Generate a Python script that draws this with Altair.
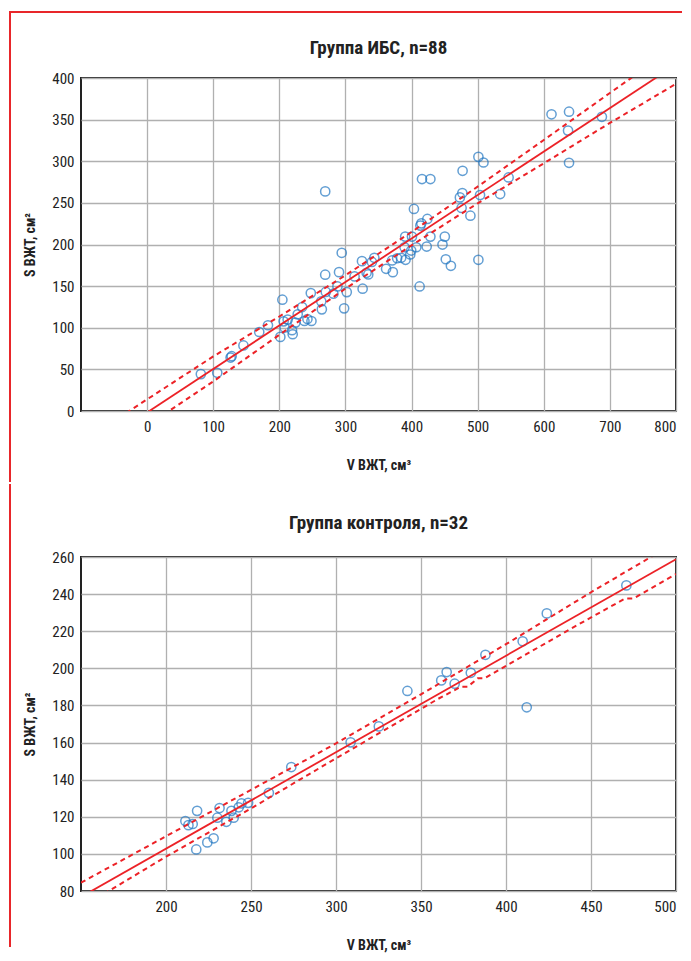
import altair as alt
import pandas as pd

# ---------------- data ----------------
# Group IHD (n=88)
ihd_v = [81.3, 106.1, 126.3, 127.9, 145.7, 169.6, 182.8, 201.5, 204.6, 206.5,
         212.6, 208.0, 219.2, 220.2, 224.3, 227.8, 234.5, 238.0, 242.5, 248.6,
         247.6, 263.4, 264.3, 269.4, 270.3, 269.4, 281.8, 287.9, 290.3, 294.4,
         298.0, 302.0, 313.8, 326.0, 325.0, 332.0, 334.5, 340.0, 343.7, 361.5,
         371.7, 370.6, 378.2, 384.3, 390.9, 398.0, 399.5, 407.2, 389.4, 390.4,
         400.6, 403.6, 412.2, 413.3, 414.8, 423.9, 422.9, 428.5, 446.8, 450.3,
         451.8, 459.5, 415.8, 428.5, 473.1, 476.8, 475.7, 489.0, 477.2, 501.1,
         508.8, 503.6, 501.1, 534.0, 546.8, 611.7, 638.2, 636.7, 638.2, 687.9]
ihd_s = [44.3, 45.9, 64.2, 65.8, 78.7, 94.9, 103.0, 89.0, 133.7, 107.7,
         109.8, 100.2, 97.0, 92.2, 106.2, 116.1, 124.9, 108.1, 110.5, 108.1,
         141.6, 131.7, 122.1, 163.7, 143.0, 263.8, 140.9, 149.6, 166.8, 190.0,
         123.3, 142.8, 161.6, 146.9, 180.0, 166.0, 164.0, 179.0, 184.0, 170.8,
         166.8, 180.8, 183.5, 184.0, 181.6, 188.0, 192.7, 196.7, 196.7, 209.5,
         209.5, 242.7, 149.6, 222.7, 225.4, 230.7, 197.5, 209.5, 199.9, 209.5,
         182.3, 174.4, 278.6, 278.6, 256.6, 261.8, 243.9, 234.6, 288.5, 305.3,
         298.5, 259.4, 181.6, 260.6, 280.5, 356.4, 359.5, 336.8, 298.1, 353.4]
ihd_fit_v = [-100, 800]
ihd_fit_s = [-54.0, 416.1]
ihd_band_v = [-100, 0, 100, 200, 300, 400, 500, 600, 700, 800]
ihd_upper_s = [-38.0, 14.0, 65.5, 113.5, 163.0, 215.0, 269.5, 325.5, 382.0, 438.0]
ihd_lower_s = [-70.0, -17.5, 35.5, 91.5, 147.0, 199.0, 249.5, 297.5, 346.0, 393.0]
ihd_x_ticks = [0, 100, 200, 300, 400, 500, 600, 700, 800]
ihd_y_ticks = [0, 50, 100, 150, 200, 250, 300, 350, 400]

# Control group (n=32)
ctl_v = [211.4, 213.2, 215.7, 218.3, 217.8, 224.3, 228.0, 230.2, 231.5, 235.5,
         238.5, 239.8, 242.8, 244.4, 248.3, 260.5, 273.7, 308.6, 325.2, 342.0,
         361.9, 365.1, 369.8, 379.3, 387.9, 409.8, 412.2, 424.0, 470.8]
ctl_s = [117.7, 115.5, 116.1, 123.2, 102.4, 106.2, 108.4, 119.5, 124.7, 117.3,
         123.2, 119.5, 125.1, 127.2, 127.5, 132.9, 146.8, 160.1, 168.7, 187.8,
         193.5, 198.0, 191.7, 197.6, 207.3, 214.6, 179.0, 229.6, 244.7]
ctl_fit_v = [150, 500]
ctl_fit_s = [76.8, 258.8]
ctl_upper_v = [150, 200, 250, 300, 350, 400, 450, 500]
ctl_upper_s = [84.5, 109.5, 134.5, 159.5, 186.0, 213.0, 241.0, 268.0]
ctl_lower_v = [150, 200, 250, 300, 360, 373.5, 377.5, 383.4, 387.3, 438.6, 470.2, 475.1, 500]
ctl_lower_s = [71.0, 98.5, 124.5, 151.5, 183.5, 190.1, 190.1, 194.6, 194.6, 221.6, 237.7, 237.7, 250.8]
ctl_x_ticks = [200, 250, 300, 350, 400, 450, 500]
ctl_y_ticks = [80, 100, 120, 140, 160, 180, 200, 220, 240, 260]

titles = ["Группа ИБС, n=88", "Группа контроля, n=32"]
x_title = "V ВЖТ, см³"
y_title = "S ВЖТ, см²"

# ---------------- styling ----------------
FONT = "Roboto Condensed, Noto Sans Condensed, DejaVu Sans Condensed, Liberation Sans Narrow, Roboto, sans-serif"
BLUE = "#2277c2"
RED = "#ec2227"
FRAME = "#e8262a"
INK = "#222222"
W = 595


def build(v, s, fit_v, fit_s, up_v, up_s, lo_v, lo_s, xdom, ydom, xt, yt,
          title, height, title_y, frame_y, frame_y2, top_edge):
    xs = alt.Scale(domain=xdom, nice=False, zero=False)
    ys = alt.Scale(domain=ydom, nice=False, zero=False)
    xax = alt.Axis(values=xt, title=x_title, grid=True)
    yax = alt.Axis(values=yt, title=y_title, grid=True)
    X = alt.X("v:Q", scale=xs, axis=xax)
    Y = alt.Y("s:Q", scale=ys, axis=yax)

    pts = alt.Chart(pd.DataFrame({"v": v, "s": s})).mark_point(
        shape="circle", filled=False, size=85, strokeWidth=1.5, color=BLUE
    ).encode(x=X, y=Y)
    fit = alt.Chart(pd.DataFrame({"v": fit_v, "s": fit_s})).mark_line(
        color=RED, strokeWidth=1.8, clip=True).encode(x=X, y=Y)
    up = alt.Chart(pd.DataFrame({"v": up_v, "s": up_s})).mark_line(
        color=RED, strokeWidth=2, strokeDash=[5, 4], clip=True).encode(x=X, y=Y)
    lo = alt.Chart(pd.DataFrame({"v": lo_v, "s": lo_s})).mark_line(
        color=RED, strokeWidth=2, strokeDash=[5, 4], clip=True).encode(x=X, y=Y)

    one = pd.DataFrame({"a": [0]})
    ttl = alt.Chart(one).mark_text(
        text=title, font=FONT, fontSize=19, fontWeight="bold", color=INK,
        align="center", baseline="middle"
    ).encode(x=alt.value(W / 2), y=alt.value(title_y))
    layers = [pts, fit, up, lo, ttl]
    # decorative red page frame (left edge, and top edge on the first panel)
    layers.append(alt.Chart(one).mark_rect(color=FRAME, strokeWidth=0).encode(
        x=alt.value(-72), x2=alt.value(-70), y=alt.value(frame_y), y2=alt.value(frame_y2)))
    if top_edge:
        layers.append(alt.Chart(one).mark_rect(color=FRAME, strokeWidth=0).encode(
            x=alt.value(-72), x2=alt.value(W + 6), y=alt.value(frame_y), y2=alt.value(frame_y + 2)))
    return alt.layer(*layers).properties(width=W, height=height)


top = build(ihd_v, ihd_s, ihd_fit_v, ihd_fit_s, ihd_band_v, ihd_upper_s,
            ihd_band_v, ihd_lower_s, [-100, 800], [0, 400], ihd_x_ticks, ihd_y_ticks,
            titles[0], 333, -30, -67, 404, True)
bottom = build(ctl_v, ctl_s, ctl_fit_v, ctl_fit_s, ctl_upper_v, ctl_upper_s,
               ctl_lower_v, ctl_lower_s, [150, 500], [80, 260], ctl_x_ticks, ctl_y_ticks,
               titles[1], 334, -34, -73, 390, False)

chart = alt.vconcat(top, bottom, spacing=0).properties(
    padding={"left": 0, "top": 2, "right": 0, "bottom": 0}
).configure_view(
    stroke=INK, strokeWidth=2
).configure_axis(
    domain=False, ticks=False, gridColor="#b0b0b0", gridWidth=1.3,
    labelFont=FONT, labelFontSize=15, labelColor=INK, labelPadding=7,
    titleFont=FONT, titleFontSize=14, titleFontWeight="bold", titleColor=INK,
    labelOverlap=False
).configure_axisX(
    titlePadding=24, labelPadding=8
).configure_axisY(
    titlePadding=14
)

chart.save("out.html", embed_options={"renderer": "svg", "actions": False})
